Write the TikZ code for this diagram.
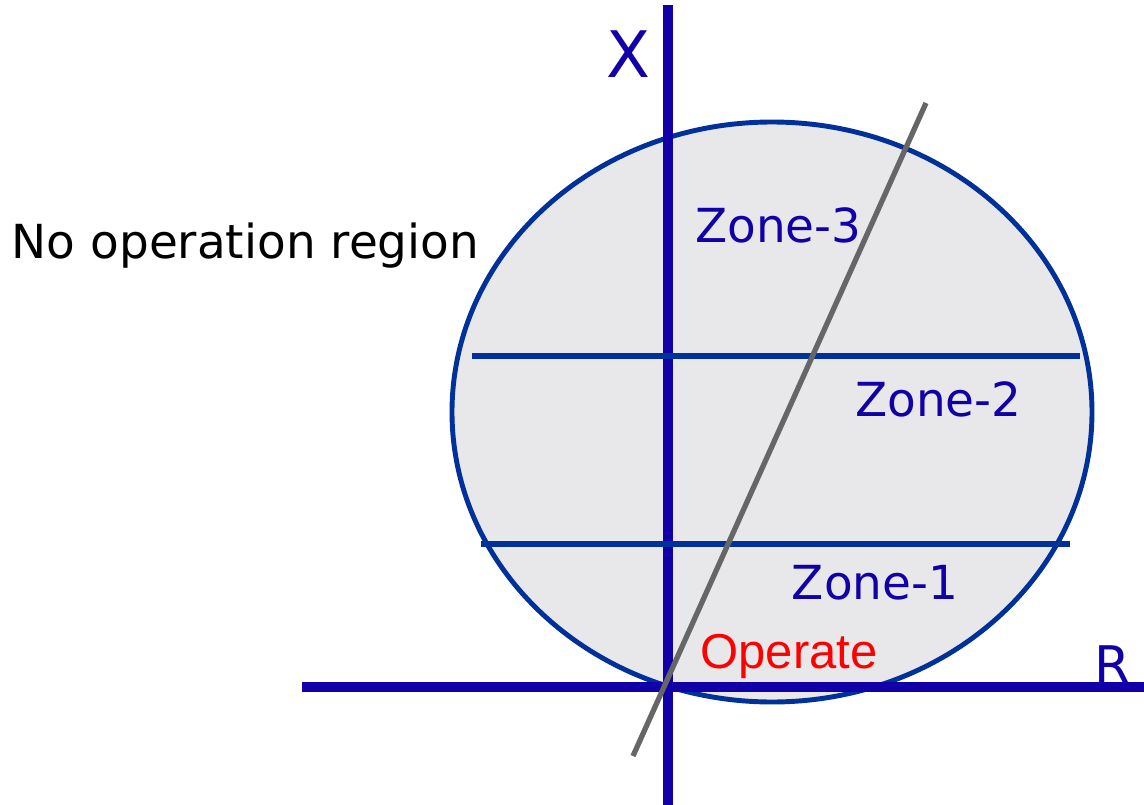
\documentclass[tikz,border=0pt]{standalone}
\usepackage{fontspec}
\setmainfont{DejaVu Sans}
\newfontfamily\arialfont{Liberation Sans}
\definecolor{axisblue}{RGB}{17,0,168}
\definecolor{zoneblue}{RGB}{0,48,154}
\definecolor{regiongray}{RGB}{232,232,234}
\definecolor{linegray}{RGB}{102,102,102}
\begin{document}
\begin{tikzpicture}[x=0.02cm, y=-0.02cm,
        axisline/.style={axisblue, line width=5.7pt},
        zoneline/.style={zoneblue, line width=3.2pt},
        zonelabel/.style={text=axisblue, anchor=base, inner sep=0pt, font=\fontsize{26.7}{30}\selectfont}]
    \useasboundingbox (0,0) rectangle (1144,805);
    % Operating characteristic
    \filldraw[fill=regiongray, draw=zoneblue, line width=2.8pt] (772,412) ellipse [x radius=320, y radius=290];
    % Axes
    \coordinate (xbot) at (668,805);
    \coordinate (xtop) at (668,5);
    \coordinate (rleft) at (302,687);
    \coordinate (rright) at (1144,687);
    \draw[axisline] (xbot) -- (xtop);
    \draw[axisline] (rleft) -- (rright);
    \node[text=axisblue, anchor=base, inner sep=0pt, font=\fontsize{36.5}{40}\selectfont] (xlabel) at (628,77) {X};
    \node[text=axisblue, anchor=base, inner sep=0pt, font=\fontsize{29.5}{33}\selectfont] (rlabel) at (1112,683) {R};
    % Zone boundaries
    \foreach \y/\a/\b in {356/472/1080, 544/481/1070} {
            \coordinate (zl\y) at (\a,\y);
            \coordinate (zr\y) at (\b,\y);
            \draw[zoneline] (zl\y) -- (zr\y);
        }
    % Line impedance
    \coordinate (lbot) at (633,756);
    \coordinate (ltop) at (926,103);
    \draw[linegray, line width=3pt] (lbot) -- (ltop);
    % Labels
    \node[zonelabel] (zone3) at (778.5,242) {Zone-3};
    \node[zonelabel] (zone2) at (938.5,416) {Zone-2};
    \node[zonelabel] (zone1) at (875,599) {Zone-1};
    \node[text=red, anchor=base, inner sep=0pt, font=\arialfont\fontsize{27.9}{31}\selectfont] (operate) at (789,668) {Operate};
    \node[anchor=base, inner sep=0pt, font=\fontsize{26.7}{30}\selectfont] (noop) at (245.5,258) {No operation region};
\end{tikzpicture}
\end{document}
